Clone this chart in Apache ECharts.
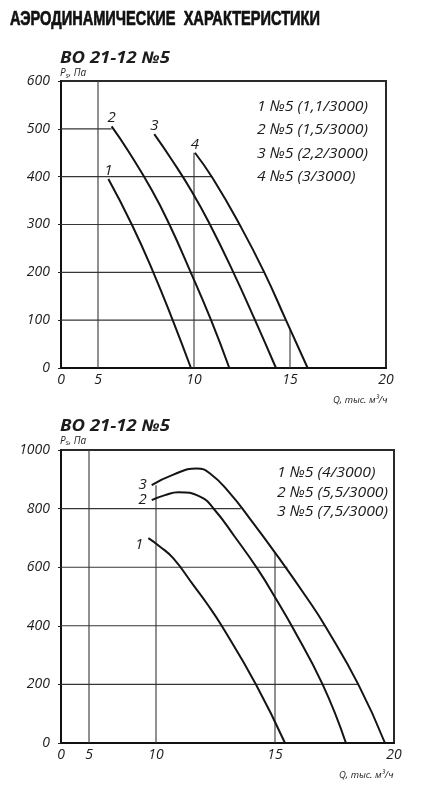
<!DOCTYPE html>
<html><head><meta charset="utf-8">
<script src="https://cdn.jsdelivr.net/npm/echarts@6/dist/echarts.min.js"></script>
<style>html,body{margin:0;padding:0;background:#fff}#c{width:423px;height:800px}</style>
</head><body><div id="c"></div>
<script>
// ================= DATA =================
const pageTitle = 'АЭРОДИНАМИЧЕСКИЕ  ХАРАКТЕРИСТИКИ';
const chartTitle = 'ВО 21-12 №5';
const xName = 'Q, тыс. м³/ч';

// ---- top chart ----
const topXTicks = [0, 5, 10, 15, 20];
const topYMax = 600, topYStep = 100;
const topLegend = ['1 №5 (1,1/3000)', '2 №5 (1,5/3000)', '3 №5 (2,2/3000)', '4 №5 (3/3000)'];
const topCurveNames = ['1', '2', '3', '4'];
const topCurve1 = [[5.54,395],[6.76,300],[7.88,200],[8.89,100],[9.84,0]];
const topCurve2 = [[5.71,505],[6.6,452],[7.80,372],[8.72,300],[9.83,200],[10.89,100],[11.84,0]];
const topCurve3 = [[7.93,489],[8.85,435],[9.9,368],[10.83,300],[12.05,200],[13.18,100],[14.27,0]];
const topCurve4 = [[10.05,450],[11.0,395],[12.40,298],[13.66,200],[14.79,100],[15.92,0]];
// partial grid lines (level, Q where line ends) and vertical (Q, top Ps)
const topHLines = [500, 400, 300, 200, 100];
const topHLineEnds = [5.71, 10.95, 12.40, 13.66, 14.79];
const topVLines = [5, 10, 15];
const topVLineTops = [600, 450, 80];

// ---- bottom chart ----
const botXTicks = [0, 5, 10, 15, 20];
const botYMax = 1000, botYStep = 200;
const botLegend = ['1 №5 (4/3000)', '2 №5 (5,5/3000)', '3 №5 (7,5/3000)'];
const botCurveNames = ['1', '2', '3'];
const botCurve1 = [[9.43,699],[10.17,670],[10.73,630],[11.57,539],[12.13,477],[12.76,400],[14.20,200],[15.42,0]];
const botCurve2 = [[9.68,829],[10.38,846],[10.94,856],[11.85,841],[12.45,797],[13.31,704],[14.30,590],[15.07,488],[15.70,400],[17.0,200],[17.98,0]];
const botCurve3 = [[9.68,880],[10.73,916],[11.71,937],[12.27,920],[13.11,852],[13.95,765],[15.0,650],[16.40,488],[17.1,400],[18.50,200],[19.62,0]];
const botHLines = [800, 600, 400, 200];
const botHLineEnds = [13.56, 15.52, 17.1, 18.50];
const botVLines = [5, 10, 15];
const botVLineTops = [1000, 880, 650];

// ================= LAYOUT (non-uniform Q scale of the original) =================
const topScaleQ = [0, 5, 20],      topScaleP = [0, 37, 325];
const botScaleQ = [0, 5, 10, 20],  botScaleP = [0, 28, 95, 333];
function makeScale(qs, ps) {
  return function (q) {
    for (let i = 1; i < qs.length; i++) {
      if (q <= qs[i] || i === qs.length - 1) {
        const t = (q - qs[i - 1]) / (qs[i] - qs[i - 1]);
        return ps[i - 1] + t * (ps[i] - ps[i - 1]);
      }
    }
  };
}
const sTop = makeScale(topScaleQ, topScaleP);
const sBot = makeScale(botScaleQ, botScaleP);

const FONT = 'Open Sans';
const TXT = '#1c1c1c';
const labelFont = {fontFamily: FONT, fontStyle: 'italic', fontSize: 14, color: TXT};

function measure(text, font) {
  const cv = document.createElement('canvas').getContext('2d');
  cv.font = font;
  return cv.measureText(text).width;
}

function xAxisFor(gi, ticks, sx, maxP) {
  const vals = ticks.map(sx);
  return {
    type: 'value', gridIndex: gi, min: 0, max: maxP,
    axisLine: {show: true, onZero: false, lineStyle: {color: '#111', width: 2}},
    axisTick: {show: false},
    splitLine: {show: false},
    axisLabel: Object.assign({
      customValues: vals, margin: 5, showMinLabel: true, showMaxLabel: true,
      formatter: function (v) {
        const i = vals.findIndex(d => Math.abs(d - v) < 1e-6);
        return i >= 0 ? String(ticks[i]) : '';
      }
    }, labelFont)
  };
}
function yAxisFor(gi, max, step) {
  return {
    type: 'value', gridIndex: gi, min: 0, max: max, interval: step,
    axisLine: {show: true, lineStyle: {color: '#111', width: 2}},
    axisTick: {show: true, length: 3, lineStyle: {color: '#222', width: 1}},
    splitLine: {show: false},
    axisLabel: Object.assign({margin: 11, formatter: v => String(v)}, labelFont)
  };
}
function seg(gi, a, b) {
  return {type: 'line', xAxisIndex: gi, yAxisIndex: gi, data: [a, b], symbol: 'none',
    silent: true, animation: false, z: 2,
    lineStyle: {color: '#363636', width: 1.1}};
}
function curve(gi, pts, sx, name, lab) {
  return {
    type: 'line', xAxisIndex: gi, yAxisIndex: gi, silent: true, animation: false, z: 5,
    showSymbol: true, symbol: 'circle', symbolSize: 0, smooth: 0.5,
    lineStyle: {color: '#141414', width: 2},
    label: {show: false},
    data: pts.map((p, i) => i === 0
      ? {value: [sx(p[0]), p[1]], label: Object.assign({show: true, formatter: name}, labelFont, {fontSize: 15}, lab)}
      : [sx(p[0]), p[1]])
  };
}

const series = [];
topHLines.forEach((y, i) => series.push(seg(0, [0, y], [sTop(topHLineEnds[i]), y])));
topVLines.forEach((x, i) => series.push(seg(0, [sTop(x), 0], [sTop(x), topVLineTops[i]])));
botHLines.forEach((y, i) => series.push(seg(1, [0, y], [sBot(botHLineEnds[i]), y])));
botVLines.forEach((x, i) => series.push(seg(1, [sBot(x), 0], [sBot(x), botVLineTops[i]])));
[topCurve1, topCurve2, topCurve3, topCurve4].forEach((c, i) =>
  series.push(curve(0, c, sTop, topCurveNames[i], {position: 'top', distance: 1})));
[botCurve1, botCurve2, botCurve3].forEach((c, i) =>
  series.push(curve(1, c, sBot, botCurveNames[i],
    {position: 'left', distance: 5, offset: i === 0 ? [0, 7] : [0, 0]})));

function txt(x, y, text, font, extra, el) {
  return Object.assign({type: 'text', x: x, y: y, silent: true,
    style: Object.assign({text: text, fill: TXT, verticalAlign: 'middle', align: 'left'}, font, extra || {})}, el || {});
}
const subTitleFont = {fontFamily: FONT, fontStyle: 'italic', fontWeight: 'bold', fontSize: 16};
const legFont = {fontFamily: FONT, fontStyle: 'italic', fontSize: 15};
const smallFont = {fontFamily: FONT, fontStyle: 'italic', fontSize: 9.5};
function pLabel(x, y) {
  return {type: 'text', x: x, y: y, silent: true,
    style: {text: '{a|P}{b|s}{a|, Па}', fill: TXT, verticalAlign: 'middle',
      rich: {a: {fontFamily: FONT, fontStyle: 'italic', fontSize: 10, color: TXT},
             b: {fontFamily: FONT, fontStyle: 'italic', fontSize: 7, color: TXT, padding: [4, 0, 0, 0]}}}};
}

const titleFontCss = 'bold 20px "Liberation Sans"';
const titleScale = 310 / measure(pageTitle, titleFontCss);
const subFontCss = 'italic bold 16px "Open Sans"';
const subScale = 110 / measure(chartTitle, subFontCss);
const legScale = 111 / measure(topLegend[0], 'italic 15px "Open Sans"');

const graphic = [
  txt(10, 19, pageTitle, {fontFamily: 'Liberation Sans', fontWeight: 'bold', fontSize: 20},
      {fill: '#111', stroke: '#111', lineWidth: 0.7}, {scaleX: titleScale}),
  txt(60, 58, chartTitle, subTitleFont, null, {scaleX: subScale}),
  txt(60, 426, chartTitle, subTitleFont, null, {scaleX: subScale}),
  pLabel(60, 73.5),
  pLabel(60, 441),
  txt(333, 400, xName, smallFont),
  txt(339, 775, xName, smallFont)
];
const topLegY = [107, 130, 154, 177];
topLegend.forEach((t, i) => graphic.push(txt(257, topLegY[i], t, legFont, null, {scaleX: legScale})));
const botLegY = [473, 493, 512];
botLegend.forEach((t, i) => graphic.push(txt(277, botLegY[i], t, legFont, null, {scaleX: legScale})));

const chart = echarts.init(document.getElementById('c'), null, {renderer: 'canvas'});
chart.setOption({
  animation: false,
  backgroundColor: '#fff',
  grid: [
    {left: 61, top: 81, width: 325, height: 287, containLabel: false, outerBoundsMode: 'none',
     show: true, borderColor: '#2a2a2a', borderWidth: 2, backgroundColor: 'transparent'},
    {left: 61, top: 450, width: 333, height: 293, containLabel: false, outerBoundsMode: 'none',
     show: true, borderColor: '#2a2a2a', borderWidth: 2, backgroundColor: 'transparent'}
  ],
  xAxis: [xAxisFor(0, topXTicks, sTop, topScaleP[topScaleP.length - 1]),
          xAxisFor(1, botXTicks, sBot, botScaleP[botScaleP.length - 1])],
  yAxis: [yAxisFor(0, topYMax, topYStep), yAxisFor(1, botYMax, botYStep)],
  series: series,
  graphic: graphic
});
</script></body></html>
